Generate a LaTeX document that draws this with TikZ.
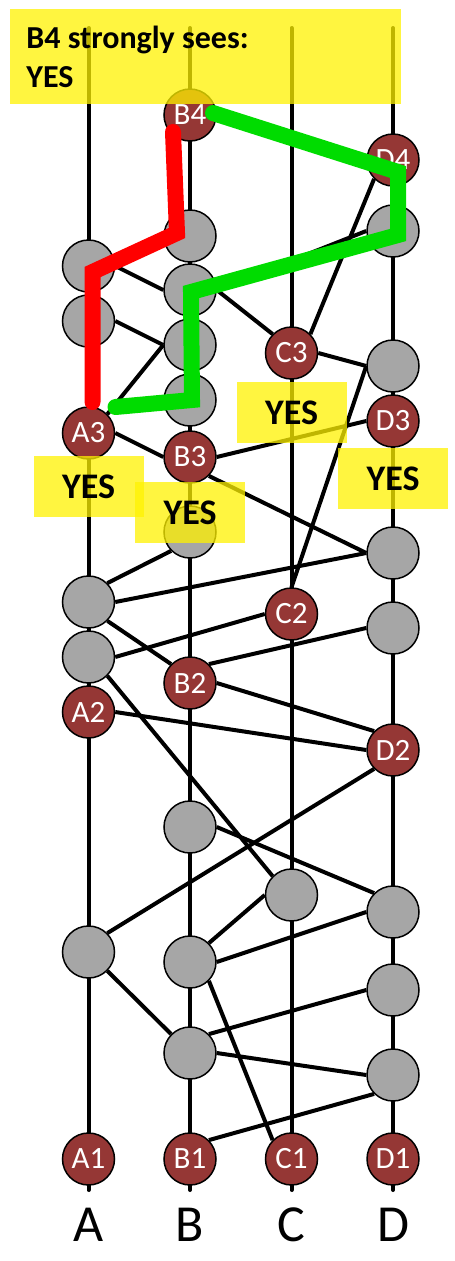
\documentclass[tikz,border=0pt]{standalone}
\usepackage{fontspec}
\setmainfont{Carlito}
\usepackage{tikz}
\usetikzlibrary{calc, backgrounds}
\definecolor{witred}{HTML}{953735}
\definecolor{evgray}{HTML}{A6A6A6}
\definecolor{seegreen}{RGB}{0,220,0}

\begin{document}
\begin{tikzpicture}[x=1pt, y=-1pt, thick,
	ev/.style={circle, draw=black, line width=1.5pt, minimum size=52pt, inner sep=0pt},
	wit/.style={ev, fill=witred, text=white, font=\fontsize{31}{31}\selectfont},
	gev/.style={ev, fill=evgray},
	link/.style={line width=4pt},
	trail/.style={line width=16pt, line cap=round},
	hl/.style={fill=yellow, fill opacity=.75, text opacity=1, inner sep=0pt},
	yes/.style={hl, minimum width=110pt, minimum height=61pt, font=\bfseries\fontsize{36}{36}\selectfont},
	]
	\useasboundingbox (0,0) rectangle (455,1261);

	% witnesses
	\foreach \n/\x/\y in {A1/88.5/1159, A2/88.5/712, A3/88.5/433,
		B1/190/1159, B2/190/683, B3/190/457, B4/190/115,
		C1/291.5/1159, C2/291.5/614, C3/291.5/353,
		D1/393/1159, D2/393/750, D3/393/421, D4/393/160}
		\node[wit] (\n) at (\x,\y) {\n};

	% other events
	\foreach \n/\x/\y in {a1/88.5/952, a2/88.5/657, a3/88.5/602, a4/88.5/321, a5/88.5/266,
		b1/190/1053, b2/190/962, b3/190/827, b4/190/532, b5/190/400, b6/190/345, b7/190/290, b8/190/236,
		c1/291.5/895,
		d1/393/1075, d2/393/990, d3/393/912, d4/393/628, d5/393/553, d6/393/366, d7/393/231}
		\node[gev] (\n) at (\x,\y) {};

	\begin{scope}[on background layer]
		\foreach \c/\x in {A/88.5, B/190, C/291.5, D/393} {
			\coordinate (top\c) at (\x,28);
			\coordinate (bot\c) at (\x,1190);
			\draw[link, line cap=round] (top\c) -- (bot\c);
		}
		\foreach \u/\v in {B1.north east/d1.south west, C1.north west/b2.south east,
			a1.south east/b1.north west, b1.north east/d2.west, b1.east/d1.west,
			b2.east/d3.west, b2.north east/c1.west, a1.north east/D2.south west,
			b3.east/d3.north west, a2.south east/c1.north west, A2.east/D2.west,
			B2.east/D2.north west, B2.north east/d4.west, a3.south east/B2.north west,
			a2.east/C2.west, a3.north east/b4.south west, a3.east/d5.west,
			B3.south east/d5.west, B3.east/D3.west, A3.east/B3.west,
			C2.north/d6.west, C3.east/d6.west, C3.north east/D4.south west,
			b7.east/C3.north west, a5.east/b7.west, a4.east/b6.west,
			A3.north east/b6.west, b7.east/d7.west, B4.east/D4.west}
			\draw[link] (\u) -- (\v);
	\end{scope}

	\draw[trail, red] ($(B4)+(-17,17)$) -- ($(b8)+(-13,-3)$) -- ($(a5)+(4,6)$) -- ($(A3)+(4,-31)$);
	\draw[trail, seegreen] ($(B4)+(23,-2)$) -- ($(D4)+(5,12)$) -- ($(d7)+(5,4)$)
		-- ($(b7)+(1,2)$) -- ($(b5)+(2,0)$) -- ($(A3)+(27,-26)$);

	\node[yes] (yesA) at (88.5,486.5) {YES};
	\node[yes] (yesB) at (190,512.5) {YES};
	\node[yes] (yesC) at (291.5,412.5) {YES};
	\node[yes] (yesD) at (393,478.5) {YES};

	\node[hl, anchor=north west, minimum width=391pt, minimum height=95pt] (seesbox) at (10,9) {};
	\node[anchor=base west, inner sep=0pt, font=\bfseries\fontsize{32}{32}\selectfont] (sees) at (26,48) {B4 strongly sees:};
	\node[anchor=base west, inner sep=0pt, font=\bfseries\fontsize{32}{32}\selectfont] (seesyes) at (26,87) {YES};

	\foreach \c/\x in {A/88.5, B/190, C/291.5, D/393}
		\node[font=\fontsize{52}{52}\selectfont] (lab\c) at (\x,1225) {\c};
\end{tikzpicture}
\end{document}
